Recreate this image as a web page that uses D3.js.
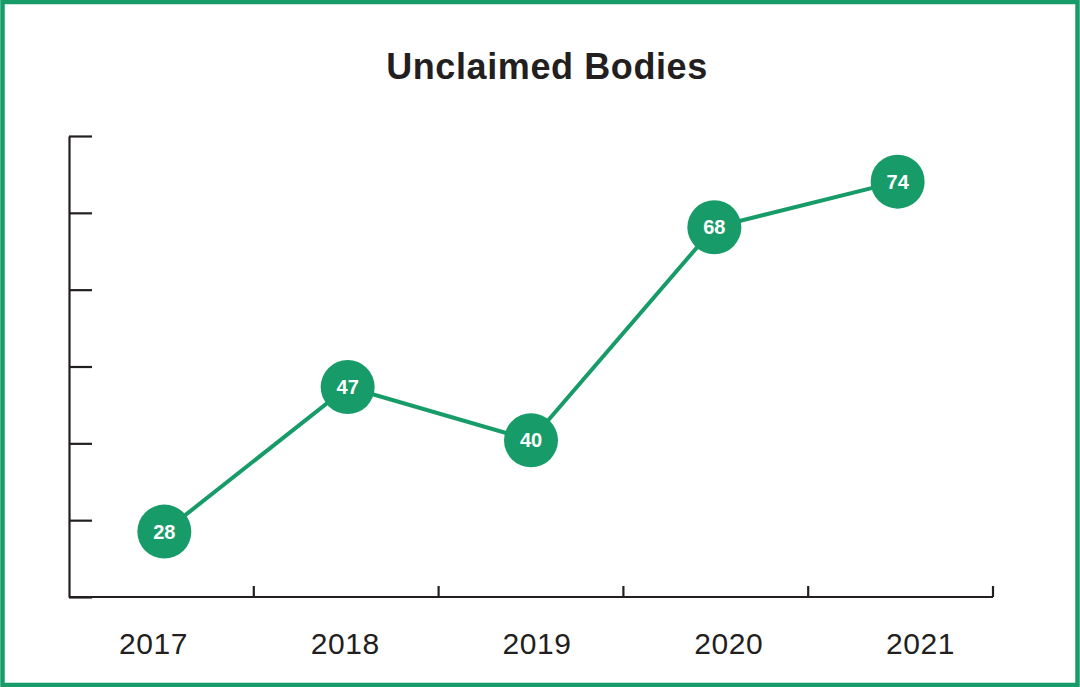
<!DOCTYPE html>
<html>
<head>
<meta charset="utf-8">
<script src="https://cdn.jsdelivr.net/npm/d3@7"></script>
<style>
	html, body { margin: 0; padding: 0; background: #fff; }
	svg { display: block; font-family: 'Liberation Sans', Arial, sans-serif; }
</style>
</head>
<body>
<svg id="chart"></svg>
<script>
var years = [ '2017', '2018', '2019', '2020', '2021' ];
var bodies = [ 28, 47, 40, 68, 74 ];
var title = 'Unclaimed Bodies';

var W = 1080, H = 687,
	GREEN = '#179c69',
	INK = '#231f20';

var svg = d3.select( '#chart' )
	.attr( 'width', W )
	.attr( 'height', H );

// frame
svg.append( 'rect' )
	.attr( 'x', 2.5 ).attr( 'y', 2 )
	.attr( 'width', W - 5 ).attr( 'height', H - 4 )
	.style( 'fill', '#fff' )
	.style( 'stroke', GREEN )
	.style( 'stroke-width', 4.5 );

svg.append( 'text' )
	.attr( 'x', 547 ).attr( 'y', 79 )
	.attr( 'text-anchor', 'middle' )
	.style( 'font-size', '36px' )
	.style( 'font-weight', 'bold' )
	.style( 'letter-spacing', '0.6px' )
	.style( 'fill', INK )
	.text( title );

var x = d3.scaleBand().domain( years ).range( [ 69, 993 ] );
var xPoint = d3.scalePoint().domain( years ).range( [ 69, 993 ] ).padding( 0.52 );
var xLabel = d3.scalePoint().domain( years ).range( [ 153.5, 920.5 ] );
var y = d3.scaleLinear().domain( [ 19.4, 80 ] ).range( [ 597, 136 ] );

// y axis: unlabelled ticks pointing into the plot
var yTicks = d3.range( 7 ).map( function( i ) { return 19.4 + i * ( 80 - 19.4 ) / 6; } );
var yAxis = svg.append( 'g' )
	.attr( 'transform', 'translate(69,0)' )
	.call( d3.axisRight( y ).tickValues( yTicks ).tickSize( 23 ).tickSizeOuter( 0 ).tickFormat( '' ) );
yAxis.selectAll( 'path, line' ).style( 'stroke', INK ).style( 'stroke-width', 2.2 );

// x axis: baseline plus short upward ticks at band edges
var xAxis = svg.append( 'g' ).attr( 'class', 'x-axis' );
xAxis.append( 'line' )
	.attr( 'x1', x.range()[ 0 ] ).attr( 'x2', x.range()[ 1 ] )
	.attr( 'y1', y.range()[ 0 ] ).attr( 'y2', y.range()[ 0 ] );
xAxis.selectAll( 'line.tick' ).data( years )
	.enter().append( 'line' )
	.attr( 'class', 'tick' )
	.attr( 'x1', function( d ) { return x( d ) + x.bandwidth(); } )
	.attr( 'x2', function( d ) { return x( d ) + x.bandwidth(); } )
	.attr( 'y1', y.range()[ 0 ] - 11 )
	.attr( 'y2', y.range()[ 0 ] );
xAxis.selectAll( 'line' ).style( 'stroke', INK ).style( 'stroke-width', 2.2 );

xAxis.selectAll( 'text' ).data( years )
	.enter().append( 'text' )
	.attr( 'x', function( d ) { return xLabel( d ); } )
	.attr( 'y', 654 )
	.attr( 'text-anchor', 'middle' )
	.style( 'font-size', '30px' )
	.style( 'letter-spacing', '0.6px' )
	.style( 'fill', INK )
	.text( function( d ) { return d; } );

var cx = function( d, i ) { return xPoint( years[ i ] ); };
var cy = function( d ) { return y( d ); };

svg.append( 'path' )
	.datum( bodies )
	.attr( 'd', d3.line().x( cx ).y( cy ) )
	.style( 'fill', 'none' )
	.style( 'stroke', GREEN )
	.style( 'stroke-width', 4 );

var dots = svg.selectAll( 'g.dot' ).data( bodies )
	.enter().append( 'g' )
	.attr( 'class', 'dot' )
	.attr( 'transform', function( d, i ) { return 'translate(' + cx( d, i ) + ',' + cy( d ) + ')'; } );

dots.append( 'circle' )
	.attr( 'r', 27 )
	.style( 'fill', GREEN );

dots.append( 'text' )
	.attr( 'text-anchor', 'middle' )
	.attr( 'dy', '0.36em' )
	.style( 'font-size', '20px' )
	.style( 'font-weight', 'bold' )
	.style( 'fill', '#fff' )
	.text( function( d ) { return d; } );
</script>
</body>
</html>
